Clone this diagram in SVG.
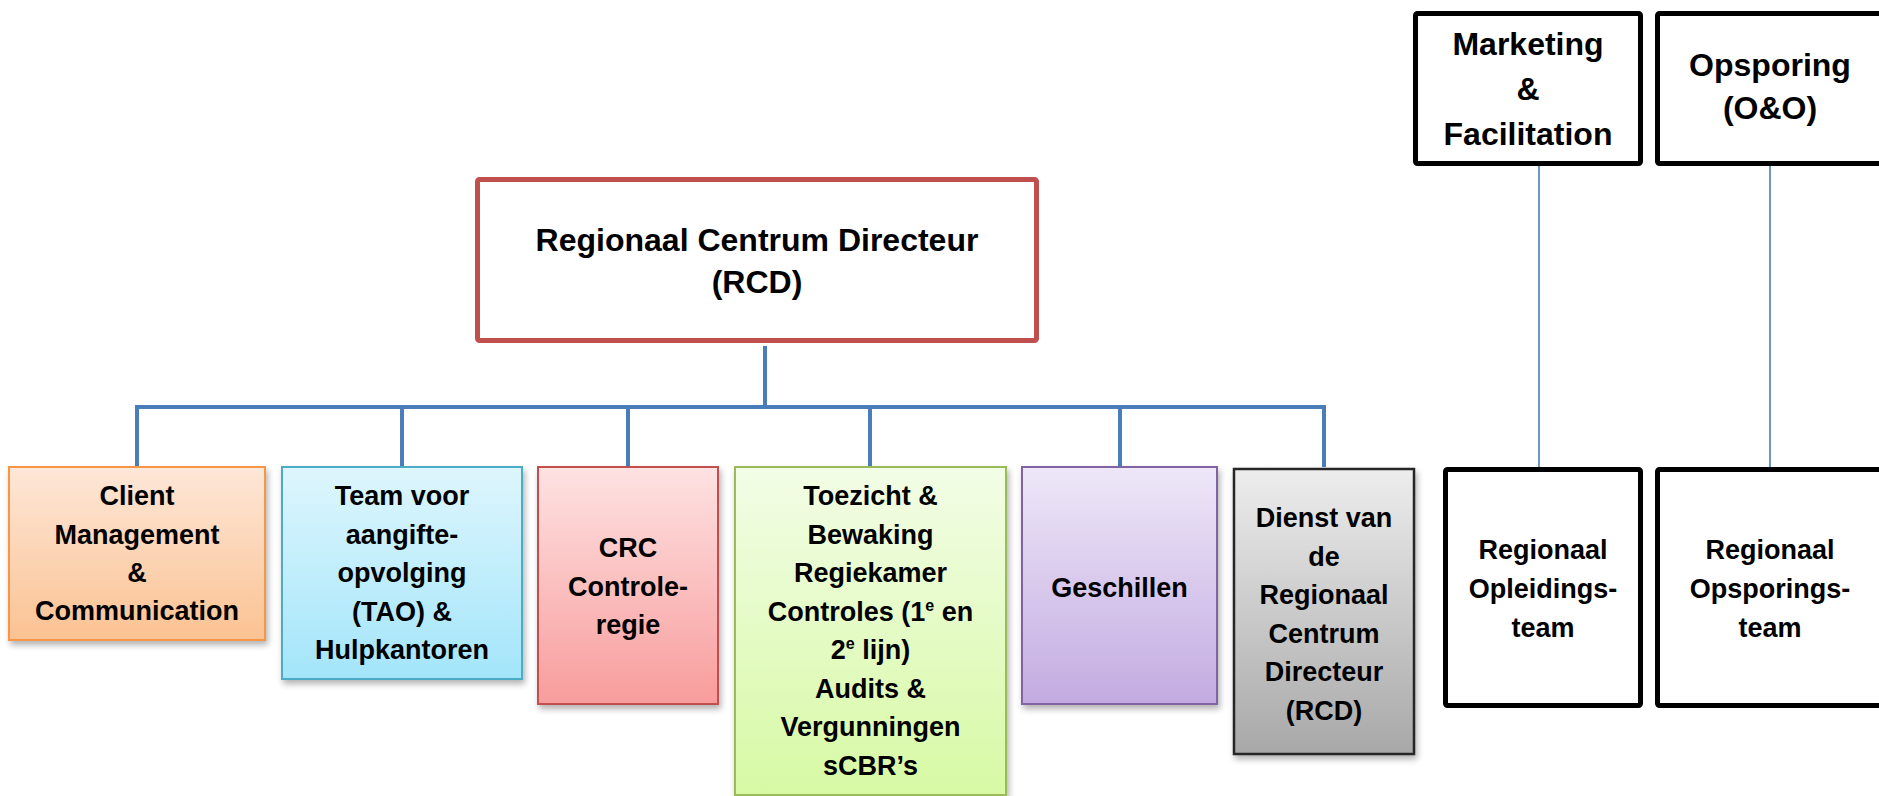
<svg xmlns="http://www.w3.org/2000/svg" width="1879" height="796" viewBox="0 0 1879 796">
<style>
text{font-family:"Liberation Sans",Arial,sans-serif;font-weight:bold;fill:#000;text-anchor:middle}
.t27{font-size:27px}
.t32{font-size:32px}
.conn{fill:none;stroke:#4A7EBB;stroke-width:4;stroke-linejoin:miter}
.thin{fill:none;stroke:#4A7EBB;stroke-width:1.6}
.blk{fill:#fff;stroke:#000;stroke-width:5}
</style>
<defs>
<filter id="sh" x="-10%" y="-10%" width="125%" height="125%">
<feDropShadow dx="2" dy="4" stdDeviation="3" flood-color="#000" flood-opacity="0.3"/>
</filter>
<linearGradient id="gO" x1="0" y1="0" x2="0" y2="1"><stop offset="0" stop-color="#FDE7D8"/><stop offset="1" stop-color="#FBC292"/></linearGradient>
<linearGradient id="gB" x1="0" y1="0" x2="0" y2="1"><stop offset="0" stop-color="#DEF6FD"/><stop offset="1" stop-color="#A3E5FA"/></linearGradient>
<linearGradient id="gR" x1="0" y1="0" x2="0" y2="1"><stop offset="0" stop-color="#FEE2E2"/><stop offset="1" stop-color="#F89C9C"/></linearGradient>
<linearGradient id="gG" x1="0" y1="0" x2="0" y2="1"><stop offset="0" stop-color="#F2FDE6"/><stop offset="1" stop-color="#D7F9A4"/></linearGradient>
<linearGradient id="gP" x1="0" y1="0" x2="0" y2="1"><stop offset="0" stop-color="#EEE7F8"/><stop offset="1" stop-color="#C3ABE1"/></linearGradient>
<linearGradient id="gK" x1="0" y1="0" x2="0" y2="1"><stop offset="0" stop-color="#EDEDED"/><stop offset="1" stop-color="#A8A8A8"/></linearGradient>
</defs>
<rect width="1879" height="796" fill="#fff"/>

<g id="connectors">
<path class="conn" d="M765 346 V407"/>
<path class="conn" d="M137 466 V407 H1324 V467"/>
<path class="conn" d="M402 407 V466"/>
<path class="conn" d="M628 407 V466"/>
<path class="conn" d="M870 407 V466"/>
<path class="conn" d="M1120 407 V466"/>
<path class="thin" d="M1539 166 V467"/>
<path class="thin" d="M1770 166 V467"/>
</g>

<g id="rcd">
<rect x="477.5" y="179.5" width="559" height="161" rx="2" fill="#fff" stroke="#C0504D" stroke-width="5"/>
<text class="t32" x="757" y="251">Regionaal Centrum Directeur</text>
<text class="t32" x="757" y="293">(RCD)</text>
</g>

<g id="client">
<rect x="9" y="467" width="256" height="173" fill="url(#gO)" stroke="#F79646" stroke-width="2" filter="url(#sh)"/>
<text class="t27" x="137" y="505">Client</text>
<text class="t27" x="137" y="544">Management</text>
<text class="t27" x="137" y="582">&amp;</text>
<text class="t27" x="137" y="620">Communication</text>
</g>

<g id="tao">
<rect x="282" y="467" width="240" height="212" fill="url(#gB)" stroke="#4BACC6" stroke-width="2" filter="url(#sh)"/>
<text class="t27" x="402" y="505">Team voor</text>
<text class="t27" x="402" y="543.5">aangifte-</text>
<text class="t27" x="402" y="582">opvolging</text>
<text class="t27" x="402" y="620.5">(TAO) &amp;</text>
<text class="t27" x="402" y="659">Hulpkantoren</text>
</g>

<g id="crc">
<rect x="538" y="467" width="180" height="237" fill="url(#gR)" stroke="#C0504D" stroke-width="2" filter="url(#sh)"/>
<text class="t27" x="628" y="557">CRC</text>
<text class="t27" x="628" y="595.5">Controle-</text>
<text class="t27" x="628" y="634">regie</text>
</g>

<g id="toezicht">
<rect x="735" y="467" width="271" height="328" fill="url(#gG)" stroke="#9BBB59" stroke-width="2" filter="url(#sh)"/>
<text class="t27" x="870.5" y="505">Toezicht &amp;</text>
<text class="t27" x="870.5" y="543.5">Bewaking</text>
<text class="t27" x="870.5" y="582">Regiekamer</text>
<text class="t27" x="870.5" y="620.5">Controles (1<tspan font-size="16" dy="-10">e</tspan><tspan dy="10"> en</tspan></text>
<text class="t27" x="870.5" y="659">2<tspan font-size="16" dy="-10">e</tspan><tspan dy="10"> lijn)</tspan></text>
<text class="t27" x="870.5" y="697.5">Audits &amp;</text>
<text class="t27" x="870.5" y="736">Vergunningen</text>
<text class="t27" x="870.5" y="774.5">sCBR’s</text>
</g>

<g id="geschillen">
<rect x="1022" y="467" width="195" height="237" fill="url(#gP)" stroke="#8064A2" stroke-width="2" filter="url(#sh)"/>
<text class="t27" x="1119.5" y="597">Geschillen</text>
</g>

<g id="dienst">
<rect x="1234" y="469" width="180" height="285" fill="url(#gK)" stroke="#262626" stroke-width="2.5" filter="url(#sh)"/>
<text class="t27" x="1324" y="527">Dienst van</text>
<text class="t27" x="1324" y="565.5">de</text>
<text class="t27" x="1324" y="604">Regionaal</text>
<text class="t27" x="1324" y="642.5">Centrum</text>
<text class="t27" x="1324" y="681">Directeur</text>
<text class="t27" x="1324" y="719.5">(RCD)</text>
</g>

<g id="marketing">
<rect class="blk" x="1415.5" y="13.5" width="225" height="150" rx="2"/>
<text class="t32" x="1528" y="55">Marketing</text>
<text class="t32" x="1528" y="100">&amp;</text>
<text class="t32" x="1528" y="145">Facilitation</text>
</g>

<g id="opsporing">
<rect class="blk" x="1657.5" y="13.5" width="240" height="150" rx="2"/>
<text class="t32" x="1770" y="76">Opsporing</text>
<text class="t32" x="1770" y="119">(O&amp;O)</text>
</g>

<g id="opleidingsteam">
<rect class="blk" x="1445.5" y="469.5" width="195" height="236" rx="2"/>
<text class="t27" x="1543" y="559">Regionaal</text>
<text class="t27" x="1543" y="598">Opleidings-</text>
<text class="t27" x="1543" y="637">team</text>
</g>

<g id="opsporingsteam">
<rect class="blk" x="1657.5" y="469.5" width="240" height="236" rx="2"/>
<text class="t27" x="1770" y="559">Regionaal</text>
<text class="t27" x="1770" y="598">Opsporings-</text>
<text class="t27" x="1770" y="637">team</text>
</g>
</svg>
